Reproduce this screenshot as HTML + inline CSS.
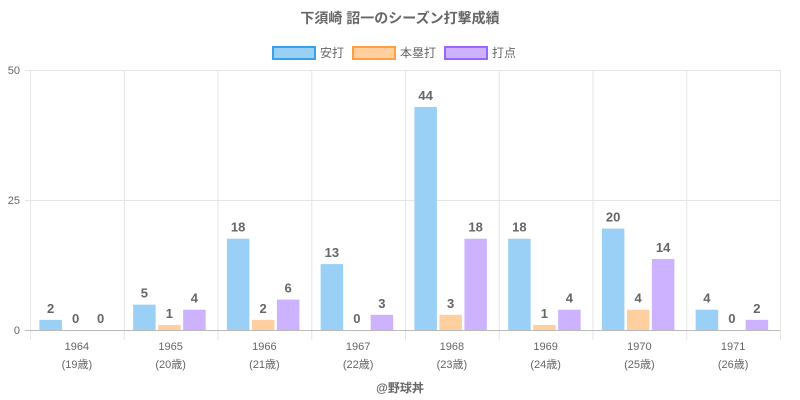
<!DOCTYPE html>
<html><head><meta charset="utf-8"><style>
html,body{margin:0;padding:0;background:#fff;width:800px;height:400px;overflow:hidden}
text{font-family:"Liberation Sans","Noto Sans CJK JP",sans-serif;fill:#666}
</style></head><body>
<svg id="s" width="800" height="400" xmlns="http://www.w3.org/2000/svg">
<text x="400" y="23" text-anchor="middle" font-size="14" font-weight="bold">下須崎 詔一のシーズン打撃成績</text>
<rect x="273" y="47" width="42" height="12" fill="#9ad0f5" stroke="#36a2eb" stroke-width="2"/>
<text x="320" y="57" font-size="12">安打</text>
<rect x="353" y="47" width="42" height="12" fill="#ffcf9f" stroke="#ff9f40" stroke-width="2"/>
<text x="400" y="57" font-size="12">本塁打</text>
<rect x="445" y="47" width="42" height="12" fill="#cdb3ff" stroke="#9966ff" stroke-width="2"/>
<text x="492" y="57" font-size="12">打点</text>
<g id="g"></g>
<text x="400" y="392" text-anchor="middle" font-size="12" font-weight="bold">@野球丼</text>
</svg>
<script>
var g=document.getElementById('g'),h='';
var d=[[2,0,0],[5,1,4],[18,2,6],[13,0,3],[44,3,18],[18,1,4],[20,4,14],[4,0,2]];
var ages=[19,20,21,22,23,24,25,26];
var cols=['#9ad0f5','#ffcf9f','#cdb3ff'];
[70,200].forEach(function(y){h+='<line x1="25" x2="780" y1="'+(y+.5)+'" y2="'+(y+.5)+'" stroke="#e5e5e5"/>';});
h+='<text x="20" y="74" text-anchor="end" font-size="11">50</text><text x="20" y="204" text-anchor="end" font-size="11">25</text><text x="20" y="334" text-anchor="end" font-size="11">0</text>';
for(var i=0;i<=8;i++){var x=30+i*93.75;h+='<line x1="'+(x+.5)+'" x2="'+(x+.5)+'" y1="70" y2="340" stroke="#e5e5e5"/>';}
for(var i=0;i<8;i++){var cx=30+i*93.75;
 for(var j=0;j<3;j++){var v=d[i][j],hh=v*5.07,bx=cx+9.4+j*25;
  if(v>0)h+='<rect x="'+bx+'" y="'+(330-hh)+'" width="22.5" height="'+hh+'" fill="'+cols[j]+'"/>';
  h+='<text x="'+(bx+11.25)+'" y="'+(330-hh-7)+'" text-anchor="middle" font-size="13" font-weight="bold">'+v+'</text>';}
 h+='<text x="'+(cx+46.9)+'" y="350" text-anchor="middle" font-size="11">'+(1964+i)+'</text>';
 h+='<text x="'+(cx+46.9)+'" y="368" text-anchor="middle" font-size="11">('+ages[i]+'歳)</text>';}
h+='<line x1="25" x2="780" y1="330.5" y2="330.5" stroke="#bbb"/>';
g.innerHTML=h;
</script>
</body></html>
